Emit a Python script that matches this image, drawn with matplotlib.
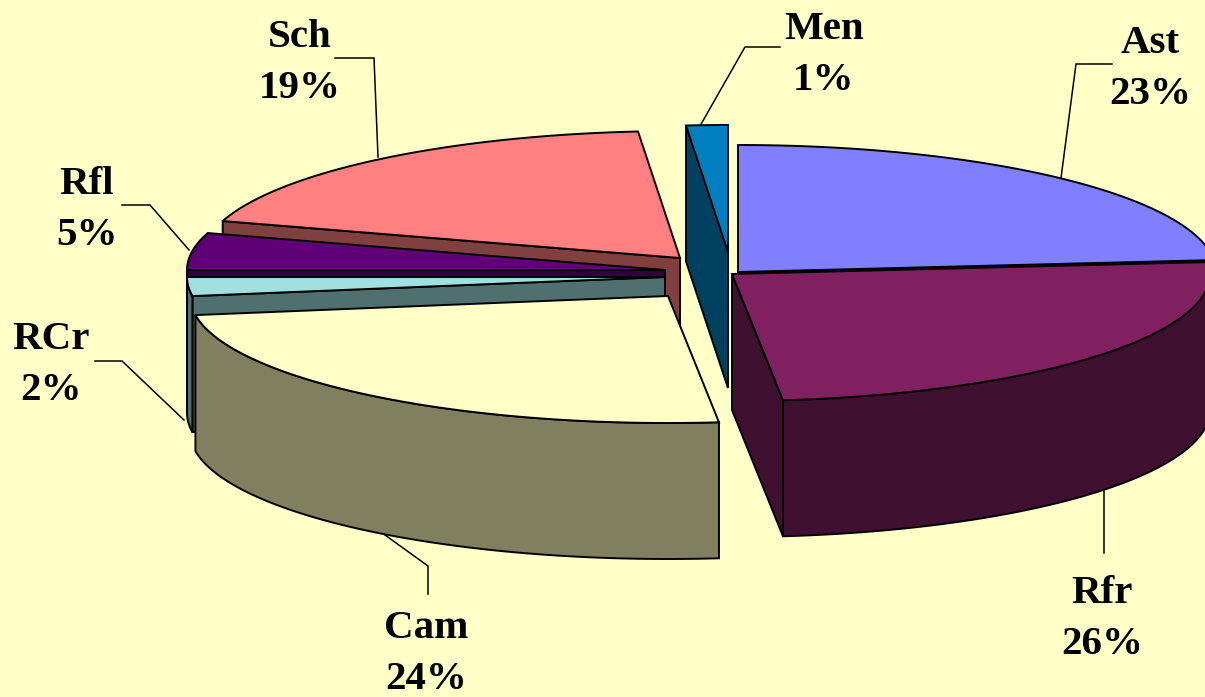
import numpy as np
import matplotlib
matplotlib.use("Agg")
import matplotlib.pyplot as plt
from matplotlib.patches import Polygon

# slices in clockwise order from 12 o'clock
names = ["Ast", "Rfr", "Cam", "RCr", "Rfl", "Sch", "Men"]
shares = [23.5, 24.8, 24.3, 2.4, 4.7, 18.9, 1.4]  # as drawn
pct_labels = [23, 26, 24, 2, 5, 19, 1]  # as printed

top_colors = ["#8080FF", "#802060", "#FFFFC8", "#A0E0E0", "#600078", "#FF8080", "#0080C0"]
wall_colors = ["#404080", "#401030", "#808060", "#507070", "#30003C", "#804040", "#004060"]

# where each slice's tip sits after exploding (pixels)
tips = [(738, 272), (732, 274), (668, 296), (665, 277), (665, 270), (680, 258), (728, 252)]
draw_order = ["Men", "Sch", "Rfl", "RCr", "Cam", "Ast", "Rfr"]

rx = 478
ry = 127
depth = 136

label_pos = [(1150, 69), (1102, 619), (426, 654), (51, 365), (87, 210), (300, 63), (824, 55)]
leaders = [
    [(1112, 64), (1076, 64), (1061, 178)],
    [(1104, 553), (1104, 491)],
    [(428, 594), (428, 566), (385, 535)],
    [(95, 361), (122, 361), (184, 420)],
    [(122, 205), (150, 205), (189, 250)],
    [(335, 58), (374, 58), (378, 157)],
    [(780, 47), (745, 47), (700, 126)],
]

bg = "#FFFFC8"

fig = plt.figure(figsize=(12.05, 6.97), dpi=100, facecolor=bg)
ax = fig.add_axes([0, 0, 1, 1])
ax.set_xlim(0, 1205)
ax.set_ylim(697, 0)
ax.axis("off")

edges = np.cumsum([0] + shares) / sum(shares) * 2 * np.pi


def rim(tip, a, b):
    t = np.linspace(a, b, max(2, int(abs(b - a) * 60)))
    return np.column_stack([tip[0] + rx * np.sin(t), tip[1] - ry * np.cos(t)])


def add_poly(pts, color, z):
    ax.add_patch(Polygon(pts, closed=True, facecolor=color, edgecolor="black",
                         linewidth=1.4, joinstyle="miter", zorder=z))


z = 1
for name in draw_order:
    i = names.index(name)
    a, b = edges[i], edges[i + 1]
    tip = np.array(tips[i], dtype=float)
    down = np.array([0, depth])

    # cut faces, only the ones turned to the viewer
    if np.sin(a) < 0:
        p = rim(tip, a, a)[0]
        add_poly([tip, p, p + down, tip + down], wall_colors[i], z)
        z += 1
    if np.sin(b) > 0:
        p = rim(tip, b, b)[0]
        add_poly([tip, p, p + down, tip + down], wall_colors[i], z)
        z += 1

    # outer wall, front half of the rim
    lo, hi = max(a, np.pi / 2), min(b, 1.5 * np.pi)
    if lo < hi:
        r = rim(tip, lo, hi)
        add_poly(np.vstack([r, (r + down)[::-1]]), wall_colors[i], z)
        z += 1

    add_poly(np.vstack([tip, rim(tip, a, b)]), top_colors[i], z)
    z += 1

for name, pct, pos, line in zip(names, pct_labels, label_pos, leaders):
    xs, ys = zip(*line)
    ax.plot(xs, ys, color="black", linewidth=1.1, zorder=0.5, solid_joinstyle="miter")
    ax.text(pos[0], pos[1], f"{name}\n{pct}%", ha="center", va="center",
            family="Liberation Serif", fontweight="bold", fontsize=29.5,
            linespacing=1.52, color="black", zorder=z + 1)

fig.savefig("out.png", dpi=100, facecolor=bg)
